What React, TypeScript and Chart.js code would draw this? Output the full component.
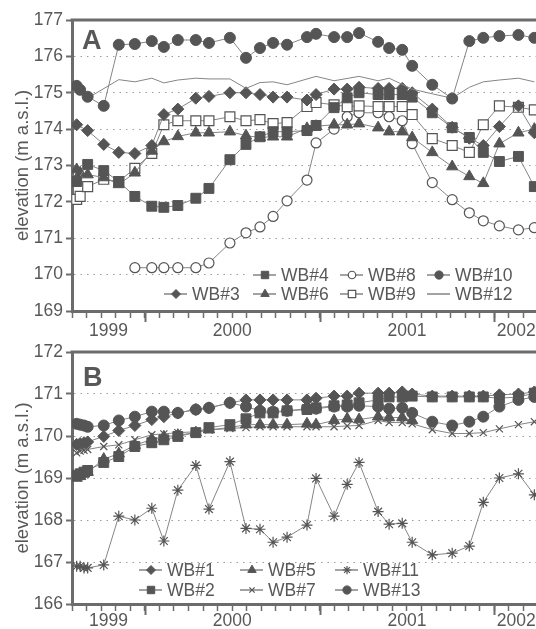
import React, { useEffect, useRef } from 'react';
import { Chart, registerables } from 'chart.js';
import { drawPoint } from 'chart.js/helpers';

Chart.register(...registerables);

const n = null;

// Sampling dates (decimal years)
const DATES = [1999.610, 1999.630, 1999.652, 1999.673, 1999.765, 1999.851, 1999.943, 2000.040, 2000.109, 2000.189, 2000.292, 2000.367, 2000.487, 2000.579, 2000.659, 2000.734, 2000.814, 2000.928, 2000.980, 2001.083, 2001.158, 2001.226, 2001.335, 2001.398, 2001.473, 2001.530, 2001.645, 2001.759, 2001.857, 2001.937, 2002.029, 2002.138, 2002.229];

const YEARS = [1999, 2000, 2001, 2002];
const X_MIN = 1999 + 7 / 12;
const X_MAX = 2002.25;

// Panel A series (m a.s.l.)
const WB10 = [175.19, 175.08, n, 174.89, 174.64, 176.32, 176.34, 176.42, 176.26, 176.45, 176.45, 176.37, 176.51, 175.96, 176.23, 176.37, 176.32, 176.53, 176.62, 176.53, 176.53, 176.64, 176.40, 176.23, 176.18, 175.74, 175.22, 174.84, 176.42, 176.51, 176.56, 176.59, 176.51];
const WB12 = [175.15, n, n, 174.85, n, 175.36, 175.30, 175.40, 175.27, 175.35, 175.40, 175.38, 175.38, 175.12, 175.28, 175.30, 175.22, n, 175.45, 175.33, n, 175.45, 175.33, 175.40, n, 175.10, 174.97, 174.85, 175.15, 175.30, 175.35, 175.40, 175.30];
const WB3 = [174.12, n, n, 173.96, 173.58, 173.36, 173.33, 173.55, 174.40, 174.55, 174.85, 174.90, 175.00, 175.00, 174.95, 174.88, 174.88, 174.80, 174.95, 175.10, 175.10, 175.15, 175.12, 175.12, 175.12, 175.00, 174.55, 174.05, 173.75, 173.55, 174.07, 174.64, 173.90];
const WB4 = [172.56, n, n, 173.03, 172.86, 172.56, 172.15, 171.88, 171.85, 171.90, 172.10, 172.37, 173.16, 173.58, 173.79, 173.93, 173.93, 173.96, 174.10, 174.59, 174.86, 175.00, 174.95, 174.95, 174.95, 174.88, 174.45, 174.04, 173.77, 173.36, 173.11, 173.25, 172.42];
const WB6 = [172.89, 172.80, n, 172.75, 172.67, 172.48, 172.80, 173.40, 173.66, 173.80, 173.90, 173.90, 173.93, 173.82, 173.77, 173.79, 173.79, 174.02, 174.08, 174.12, 174.12, 174.15, 174.04, 173.93, 173.93, 173.77, 173.36, 172.97, 172.70, 172.51, 173.60, 173.90, 174.00];
const WB9 = [172.07, 172.15, n, 172.42, 172.62, 172.56, 172.92, 173.33, 174.12, 174.23, 174.23, 174.23, 174.34, 174.23, 174.26, 174.15, 174.18, 174.62, 174.73, 174.67, 174.62, 174.64, 174.62, 174.62, 174.62, 174.40, 173.74, 173.55, 173.36, 174.12, 174.64, 174.60, 174.53];
const WB8 = [n, n, n, n, n, n, 170.19, 170.19, 170.19, 170.19, 170.19, 170.32, 170.87, 171.15, 171.31, 171.60, 172.03, 172.60, 173.62, 174.00, 174.34, 174.45, 174.45, 174.34, 174.23, 173.60, 172.53, 172.06, 171.70, 171.48, 171.34, 171.23, 171.29];

// Panel B series (m a.s.l.)
const WB13 = [170.29, 170.27, 170.25, 170.22, 170.25, 170.37, 170.46, 170.58, 170.58, 170.55, 170.63, 170.67, 170.79, 170.70, 170.60, 170.58, 170.60, 170.65, 170.65, 170.70, 170.70, 170.72, 170.70, 170.65, 170.67, 170.55, 170.34, 170.25, 170.34, 170.46, 170.70, 170.86, 170.93];
const WB1 = [169.80, 169.82, 169.84, 169.86, 169.99, 170.13, 170.25, 170.39, 170.46, 170.55, 170.63, 170.67, 170.79, 170.86, 170.86, 170.86, 170.86, 170.86, 170.90, 170.95, 170.95, 171.02, 171.02, 171.02, 171.05, 171.00, 170.95, 170.95, 170.95, 170.95, 170.98, 171.00, 171.05];
const WB2 = [169.06, 169.10, 169.14, 169.18, 169.37, 169.51, 169.75, 169.84, 169.91, 169.99, 170.08, 170.20, 170.27, 170.41, 170.55, 170.55, 170.60, 170.63, 170.67, 170.72, 170.74, 170.79, 170.86, 170.93, 170.93, 170.95, 170.93, 170.93, 170.93, 170.93, 170.90, 170.93, 171.02];
const WB5 = [169.00, 169.04, 169.10, 169.14, 169.45, 169.58, 169.78, 169.92, 169.98, 170.02, 170.08, 170.15, 170.20, 170.27, 170.27, 170.27, 170.27, 170.29, 170.27, 170.37, 170.41, 170.39, 170.46, 170.44, 170.44, 170.37, n, n, n, n, n, n, n];
const WB7 = [169.60, 169.64, 169.66, 169.68, 169.75, 169.79, 169.91, 170.03, 170.05, 170.08, 170.10, 170.14, 170.18, 170.20, 170.22, 170.22, 170.22, 170.22, 170.22, 170.22, 170.24, 170.25, 170.37, 170.32, 170.32, 170.29, 170.15, 170.06, 170.06, 170.08, 170.17, 170.27, 170.34];
const WB11 = [166.90, 166.90, 166.86, 166.86, 166.93, 168.09, 168.00, 168.28, 167.50, 168.71, 169.30, 168.26, 169.39, 167.80, 167.78, 167.47, 167.59, 167.88, 168.99, 168.09, 168.85, 169.37, 168.20, 167.90, 167.92, 167.47, 167.17, 167.21, 167.38, 168.42, 169.00, 169.10, 168.60];

const FONT = '"Liberation Sans", Arial, sans-serif';
const MARK = '#555555';
const LINE = '#858585';
const AXIS = '#6c6c6c';
const TEXT = '#585858';
const GRID = '#9c9c9c';

type Kind = { style: any; r: number; fill: 'solid' | 'open' | 'none' };

const SQ: Kind = { style: 'rect', r: 7, fill: 'solid' };
const DIA: Kind = { style: 'rectRot', r: 6, fill: 'solid' };
const TRI: Kind = { style: 'triangle', r: 6.5, fill: 'solid' };
const CIR: Kind = { style: 'circle', r: 5.5, fill: 'solid' };
const OCIR: Kind = { style: 'circle', r: 5, fill: 'open' };
const OSQ: Kind = { style: 'rect', r: 7, fill: 'open' };
const NONE: Kind = { style: false, r: 0, fill: 'none' };
const XCR: Kind = { style: 'crossRot', r: 5, fill: 'open' };
const STAR: Kind = { style: 'star', r: 5.5, fill: 'open' };

function makeDataset(label: string, values: (number | null)[], kind: Kind) {
  const data: { x: number; y: number }[] = [];
  values.forEach((v, i) => {
    if (v !== null) data.push({ x: DATES[i], y: v });
  });
  return {
    label,
    data,
    borderColor: LINE,
    borderWidth: 1,
    pointStyle: kind.style,
    pointRadius: kind.r,
    pointHoverRadius: kind.r,
    pointBackgroundColor: kind.fill === 'open' ? '#ffffff' : MARK,
    pointBorderColor: MARK,
    pointBorderWidth: kind.fill === 'open' ? 1.2 : 1,
    tension: 0,
    fill: false,
  };
}

function monthTicks() {
  const t: number[] = [];
  for (let m = 7; m <= 39; m++) t.push(1999 + m / 12);
  return t;
}

type LegendItem = { ds: number; col: number; row: number };

interface PanelCfg {
  datasets: any[];
  yMin: number;
  yMax: number;
  letter: string;
  letterX: number;
  letterY: number;
  legend: LegendItem[];
  cols: number[];
  rows: number[];
  legendBg: boolean;
  width: number;
  height: number;
  padTop: number;
  xAxisH: number;
  yearDy: number;
}

function decorPlugin(cfg: PanelCfg) {
  return {
    id: 'decor',
    beforeDatasetsDraw(chart: any) {
      if (!cfg.legendBg) return;
      const { ctx, chartArea: ca } = chart;
      ctx.save();
      ctx.fillStyle = '#ffffff';
      cfg.rows.forEach((ry, r) => {
        const items = cfg.legend.filter((it) => it.row === r);
        const minCol = Math.min(...items.map((it) => it.col));
        const x0 = cfg.cols[minCol] - 33;
        ctx.fillRect(x0, ry - 9, ca.right - x0 - 2, 18);
      });
      ctx.restore();
    },
    afterDraw(chart: any) {
      const { ctx, chartArea: ca, scales } = chart;
      const xs = scales.x;
      ctx.save();
      ctx.strokeStyle = AXIS;
      ctx.lineWidth = 3;
      ctx.beginPath();
      ctx.moveTo(ca.left - 1.5, ca.top);
      ctx.lineTo(ca.right, ca.top);
      ctx.lineTo(ca.right, ca.bottom + 1.5);
      ctx.stroke();

      // long year ticks
      ctx.lineWidth = 2;
      YEARS.forEach((y) => {
        if (y > X_MIN && y < X_MAX) {
          const px = Math.round(xs.getPixelForValue(y)) + 0.5;
          ctx.beginPath();
          ctx.moveTo(px, ca.bottom);
          ctx.lineTo(px, ca.bottom + 11);
          ctx.stroke();
        }
      });

      // year labels centred in each visible year
      ctx.font = `17.5px ${FONT}`;
      ctx.fillStyle = TEXT;
      ctx.textAlign = 'center';
      ctx.textBaseline = 'alphabetic';
      YEARS.forEach((y) => {
        const a = Math.max(y, X_MIN);
        const b = Math.min(y + 1, X_MAX);
        if (b <= a) return;
        const px = (xs.getPixelForValue(a) + xs.getPixelForValue(b)) / 2;
        ctx.fillText(String(y), px, ca.bottom + cfg.yearDy);
      });

      // panel letter
      ctx.font = `bold 27px ${FONT}`;
      ctx.textAlign = 'left';
      ctx.fillStyle = TEXT;
      ctx.fillText(cfg.letter, cfg.letterX, cfg.letterY);

      // legend
      cfg.legend.forEach((it) => {
        const ds = chart.data.datasets[it.ds];
        const tx = cfg.cols[it.col];
        const ty = cfg.rows[it.row];
        ctx.strokeStyle = LINE;
        ctx.lineWidth = 1.5;
        ctx.beginPath();
        ctx.moveTo(tx - 28, ty);
        ctx.lineTo(tx - 5, ty);
        ctx.stroke();
        if (ds.pointRadius > 0) {
          ctx.fillStyle = ds.pointBackgroundColor;
          ctx.strokeStyle = ds.pointBorderColor;
          ctx.lineWidth = ds.pointBorderWidth;
          drawPoint(ctx, { pointStyle: ds.pointStyle, radius: ds.pointRadius * 0.75, rotation: 0, borderWidth: ds.pointBorderWidth } as any, tx - 16, ty);
        }
        ctx.fillStyle = TEXT;
        ctx.textAlign = 'left';
        ctx.textBaseline = 'middle';
        ctx.font = `17.5px ${FONT}`;
        ctx.fillText(ds.label, tx, ty + 1);
      });
      ctx.restore();
    },
  };
}

function makeConfig(cfg: PanelCfg): any {
  const ticks = monthTicks();
  return {
    type: 'line',
    data: { datasets: cfg.datasets },
    options: {
      animation: false,
      responsive: false,
      devicePixelRatio: 1,
      events: [],
      layout: { padding: { left: 0, right: cfg.width - 538, top: cfg.padTop, bottom: 0 } },
      plugins: { legend: { display: false }, tooltip: { enabled: false } },
      elements: { line: { spanGaps: true } },
      scales: {
        x: {
          type: 'linear',
          min: X_MIN,
          max: X_MAX,
          afterBuildTicks: (s: any) => {
            s.ticks = ticks.map((v) => ({ value: v }));
          },
          afterFit: (s: any) => {
            s.height = cfg.xAxisH;
          },
          ticks: { display: true, autoSkip: false, callback: () => '', maxRotation: 0 },
          grid: { drawOnChartArea: false, drawTicks: true, tickLength: 7, tickColor: AXIS, tickWidth: 1.5, color: AXIS },
          border: { display: true, color: AXIS, width: 3 },
        },
        y: {
          min: cfg.yMin,
          max: cfg.yMax,
          afterFit: (s: any) => {
            s.width = 72;
          },
          ticks: { stepSize: 1, font: { family: FONT, size: 17.5 }, color: TEXT, padding: 3 },
          grid: { color: GRID, lineWidth: 1, tickLength: 6, tickColor: AXIS, tickWidth: 2, drawTicks: true },
          border: { display: true, color: AXIS, width: 3, dash: [1.5, 5] },
          title: {
            display: true,
            text: 'elevation (m a.s.l.)',
            font: { family: FONT, size: 18.5 },
            color: TEXT,
            padding: { top: 12, bottom: 0 },
          },
        },
      },
    },
    plugins: [decorPlugin(cfg)],
  };
}

const PANEL_A: PanelCfg = {
  datasets: [
    makeDataset('WB#10', WB10, CIR),
    makeDataset('WB#12', WB12, NONE),
    makeDataset('WB#3', WB3, DIA),
    makeDataset('WB#4', WB4, SQ),
    makeDataset('WB#6', WB6, TRI),
    makeDataset('WB#9', WB9, OSQ),
    makeDataset('WB#8', WB8, OCIR),
  ],
  yMin: 169,
  yMax: 177,
  letter: 'A',
  letterX: 82,
  letterY: 49,
  legend: [
    { ds: 3, col: 1, row: 0 },
    { ds: 6, col: 2, row: 0 },
    { ds: 0, col: 3, row: 0 },
    { ds: 2, col: 0, row: 1 },
    { ds: 4, col: 1, row: 1 },
    { ds: 5, col: 2, row: 1 },
    { ds: 1, col: 3, row: 1 },
  ],
  cols: [192, 281, 368, 455],
  rows: [275, 294],
  legendBg: true,
  width: 560,
  height: 345,
  padTop: 20,
  xAxisH: 34,
  yearDy: 25,
};

const PANEL_B: PanelCfg = {
  datasets: [
    makeDataset('WB#13', WB13, CIR),
    makeDataset('WB#1', WB1, DIA),
    makeDataset('WB#2', WB2, SQ),
    makeDataset('WB#5', WB5, TRI),
    makeDataset('WB#7', WB7, XCR),
    makeDataset('WB#11', WB11, STAR),
  ],
  yMin: 166,
  yMax: 172,
  letter: 'B',
  letterX: 83,
  letterY: 54,
  legend: [
    { ds: 1, col: 0, row: 0 },
    { ds: 3, col: 1, row: 0 },
    { ds: 5, col: 2, row: 0 },
    { ds: 2, col: 0, row: 1 },
    { ds: 4, col: 1, row: 1 },
    { ds: 0, col: 2, row: 1 },
  ],
  cols: [167, 268, 363],
  rows: [238, 258],
  legendBg: false,
  width: 560,
  height: 297,
  padTop: 20,
  xAxisH: 25,
  yearDy: 22,
};

function Panel({ cfg, top }: { cfg: PanelCfg; top: number }) {
  const ref = useRef<HTMLCanvasElement | null>(null);
  useEffect(() => {
    if (!ref.current) return;
    const chart = new Chart(ref.current, makeConfig(cfg));
    return () => chart.destroy();
  }, [cfg]);
  return (
    <canvas
      ref={ref}
      width={cfg.width}
      height={cfg.height}
      style={{ position: 'absolute', left: 0, top, width: cfg.width, height: cfg.height }}
    />
  );
}

export default function App() {
  return (
    <div style={{ position: 'absolute', left: 0, top: 0, width: 536, height: 629, overflow: 'hidden', background: '#ffffff' }}>
      <Panel cfg={PANEL_A} top={0} />
      <Panel cfg={PANEL_B} top={332} />
    </div>
  );
}
